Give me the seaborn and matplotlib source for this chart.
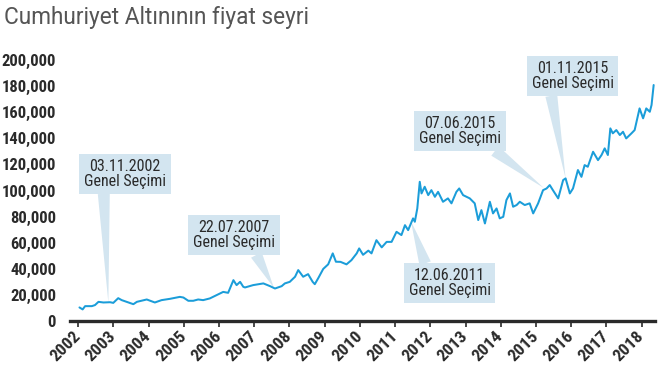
import numpy as np
import pandas as pd
import matplotlib
matplotlib.use('Agg')
import matplotlib.pyplot as plt
import seaborn as sns

# values (decimal year, TL)
years = [2002.04, 2002.13, 2002.20, 2002.39, 2002.48, 2002.58, 2002.72, 2002.91, 2003.00, 2003.14,
         2003.24, 2003.38, 2003.57, 2003.67, 2003.95, 2004.18, 2004.37, 2004.61, 2004.89, 2004.99,
         2005.13, 2005.27, 2005.41, 2005.55, 2005.74, 2005.93, 2006.12, 2006.26, 2006.41, 2006.50,
         2006.60, 2006.69, 2006.74, 2006.97, 2007.26, 2007.45, 2007.59, 2007.78, 2007.87, 2008.01,
         2008.16, 2008.25, 2008.39, 2008.53, 2008.66, 2008.72, 2008.82, 2008.96, 2009.10, 2009.23,
         2009.32, 2009.45, 2009.62, 2009.76, 2009.91, 2009.98, 2010.09, 2010.24, 2010.33, 2010.47,
         2010.62, 2010.76, 2010.90, 2011.04, 2011.18, 2011.28, 2011.37, 2011.51, 2011.56, 2011.63,
         2011.70, 2011.75, 2011.84, 2011.94, 2012.03, 2012.13, 2012.22, 2012.36, 2012.50, 2012.60,
         2012.74, 2012.82, 2012.93, 2013.12, 2013.26, 2013.36, 2013.45, 2013.55, 2013.69, 2013.78,
         2013.88, 2013.97, 2014.07, 2014.16, 2014.26, 2014.35, 2014.45, 2014.54, 2014.68, 2014.82,
         2014.92, 2015.06, 2015.20, 2015.30, 2015.39, 2015.48, 2015.63, 2015.77, 2015.84, 2015.96,
         2016.05, 2016.19, 2016.29, 2016.38, 2016.47, 2016.62, 2016.76, 2016.86, 2016.95, 2017.04,
         2017.11, 2017.18, 2017.28, 2017.38, 2017.47, 2017.56, 2017.71, 2017.80, 2017.94, 2018.04,
         2018.13, 2018.23, 2018.28, 2018.34]
prices = [10500, 9000, 11500, 11500, 12300, 14800, 14300, 14500, 14000, 17600,
          16100, 14800, 13000, 14800, 16600, 14300, 16100, 17100, 18600, 18100,
          15600, 15600, 16600, 16100, 17400, 19900, 22400, 21700, 31400, 27600,
          30100, 26300, 25800, 27600, 28900, 26800, 25000, 26800, 28900, 30100,
          34000, 39100, 34000, 36000, 30100, 28300, 33000, 40000, 43500, 51900,
          45500, 45400, 43500, 46700, 51900, 55700, 50800, 54000, 51900, 62000,
          56500, 60700, 60700, 68400, 65900, 73500, 69700, 78700, 76100, 86300,
          106700, 97800, 102900, 96500, 100300, 95200, 99000, 91400, 94000, 90200,
          99000, 101600, 96500, 94000, 90200, 77400, 85000, 74800, 91400, 82500,
          86300, 78700, 79900, 92700, 97800, 87600, 88900, 91400, 88900, 90200,
          82500, 90200, 100300, 101600, 104200, 100300, 94000, 108000, 109300, 97800,
          101600, 115700, 110500, 119500, 118200, 129700, 123300, 127200, 132300, 127200,
          147600, 143800, 146300, 142500, 145000, 139900, 143800, 146300, 162900, 155300,
          162900, 160300, 165500, 180800]

year_ticks = list(range(2002, 2019))
value_ticks = list(range(0, 200001, 20000))

# election callouts: label, point on the line, box centre
ev_labels = ['03.11.2002\nGenel Seçimi', '22.07.2007\nGenel Seçimi', '12.06.2011\nGenel Seçimi',
             '07.06.2015\nGenel Seçimi', '01.11.2015\nGenel Seçimi']
ev_x = [2002.86, 2007.56, 2011.45, 2015.22, 2015.84]
ev_y = [14200, 25500, 76500, 102000, 109300]
box_x = [2003.33, 2006.43, 2012.55, 2012.84, 2016.04]
box_y = [112600, 65900, 29100, 145500, 187700]
box_rel = [(0.24, 0), (0.74, 0), (0.22, 1), (0.85, 0), (0.23, 0)]

df = pd.DataFrame({'yil': years, 'fiyat': prices})

sns.set_style('white')
plt.rcParams['font.family'] = ['Roboto Condensed', 'DejaVu Sans']

fig = plt.figure(figsize=(6.6, 3.7), dpi=100)
ax = fig.add_axes([0.106, 0.132, 0.886, 0.706])

sns.lineplot(data=df, x='yil', y='fiyat', ax=ax, color='#1b9dd9', linewidth=1.45, zorder=4)

box_col = '#d3e5f0'
for lab, x, y, bx, by, rp in zip(ev_labels, ev_x, ev_y, box_x, box_y, box_rel):
    ax.annotate(lab, xy=(x, y), xytext=(bx, by), ha='center', va='center',
                fontsize=11.5, color='#2a2a2a', linespacing=1.0, zorder=3,
                bbox=dict(boxstyle='square,pad=0.3', fc=box_col, ec='none'),
                arrowprops=dict(arrowstyle='wedge,tail_width=0.75,shrink_factor=0.5',
                                fc=box_col, ec='none', relpos=rp, shrinkA=0, shrinkB=0))

ax.set_xlim(2001.77, 2018.37)
ax.set_ylim(0, 200000)
ax.set_xticks(year_ticks)
ax.set_xticklabels([str(y) for y in year_ticks], rotation=45, ha='right',
                   va='center', rotation_mode='anchor', fontsize=12.5, fontweight='bold',
                   color='#2a2a2a')
ax.set_yticks(value_ticks)
ax.set_yticklabels([f'{v:,}' for v in value_ticks], fontsize=12, fontweight='bold',
                   color='#2a2a2a')
ax.set_xlabel('')
ax.set_ylabel('')

for s in ['top', 'right', 'left']:
    ax.spines[s].set_visible(False)
ax.spines['bottom'].set_linewidth(2.4)
ax.spines['bottom'].set_color('#2a2a2a')
ax.tick_params(axis='x', length=4, width=1.2, color='#2a2a2a', pad=5, direction='out', bottom=True)
ax.tick_params(axis='y', length=0, pad=10)

fig.text(0.006, 0.985, 'Cumhuriyet Altınının fiyat seyri', ha='left', va='top',
         fontsize=16.3, color='#555555', family=['Roboto', 'DejaVu Sans'])

fig.savefig('out.png', dpi=100)
